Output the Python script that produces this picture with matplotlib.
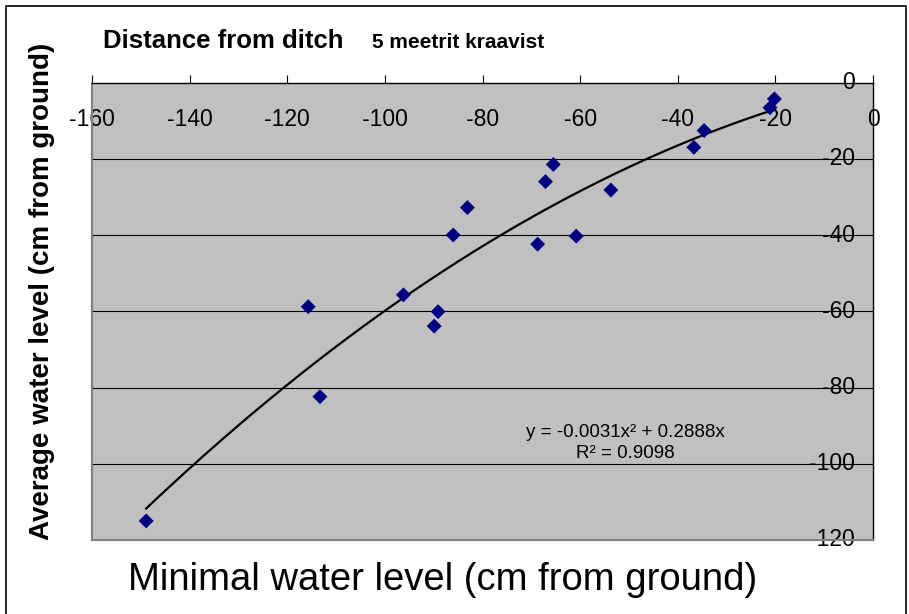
import numpy as np
import matplotlib
matplotlib.use("Agg")
import matplotlib.pyplot as plt
from matplotlib.patches import Rectangle

plt.rcParams["font.family"] = ["Liberation Sans", "DejaVu Sans"]
plt.rcParams["axes.unicode_minus"] = False

# minimal vs average water level, 5 m from the ditch
min_level = [-148.9, -115.7, -113.3, -96.2, -89.1, -89.9, -86.0, -83.1, -68.7,
             -67.1, -65.5, -60.8, -53.7, -36.7, -34.6, -21.1, -20.2]
avg_level = [-115.0, -58.8, -82.4, -55.7, -60.1, -63.9, -40.0, -32.8, -42.4,
             -26.0, -21.5, -40.3, -28.2, -17.0, -12.6, -6.6, -4.3]

# polynomial trendline (through origin)
coef_a = -0.0031
coef_b = 0.2888
r_squared = 0.9098

x_ticks = [-160, -140, -120, -100, -80, -60, -40, -20, 0]
y_ticks = [0, -20, -40, -60, -80, -100, -120]

fig = plt.figure(figsize=(9.09, 6.14), dpi=100)
ax = fig.add_axes([92 / 909, 1 - 540 / 614, 781 / 909, 457.5 / 614])
ax.set_facecolor("#C0C0C0")

ax.set_xlim(-160, 0)
ax.set_ylim(-120, 0)

for y in y_ticks[1:-1]:
    ax.axhline(y, color="black", lw=0.8, zorder=1)

ax.scatter(min_level, avg_level, marker="D", s=58, color="#000080",
           edgecolors="none", zorder=3)

xs = np.linspace(min(min_level), max(min_level), 200)
ax.plot(xs, coef_a * xs ** 2 + coef_b * xs, color="black", lw=1.6, zorder=2)

ax.text(0.6825, 0.212,
        f"y = {coef_a:.4f}x\u00b2 + {coef_b:.4f}x\nR\u00b2 = {r_squared:.4f}",
        transform=ax.transAxes, ha="center", va="center", fontsize=13.5,
        linespacing=1.3, zorder=4)

# axes cross at the top right corner, labels sit inside the plot area
ax.set_xticks(x_ticks)
ax.set_yticks(y_ticks)
ax.tick_params(axis="x", bottom=False, labelbottom=False, top=True,
               labeltop=True, direction="out", length=6, width=0.8,
               pad=-33, labelsize=16.5)
ax.tick_params(axis="y", left=False, labelleft=False, right=False,
               labelright=True, length=0, pad=-13, labelsize=16.5)
for t in ax.get_xticklabels():
    t.set_verticalalignment("center")
for t in ax.get_yticklabels():
    t.set_horizontalalignment("right")
    t.set_verticalalignment("center")

for side in ["left", "bottom"]:
    ax.spines[side].set_color("#808080")
    ax.spines[side].set_linewidth(1.5)
for side in ["top", "right"]:
    ax.spines[side].set_color("black")
    ax.spines[side].set_linewidth(1.0)

fig.text(103 / 909, 1 - 48 / 614, "Distance from ditch", fontsize=18.5,
         fontweight="bold", ha="left", va="baseline")
fig.text(372 / 909, 1 - 48 / 614, "5 meetrit kraavist", fontsize=15,
         fontweight="bold", ha="left", va="baseline")
fig.text(42 / 909, 1 - 291 / 614, "Average water level (cm from ground)",
         fontsize=20, fontweight="bold", rotation=90, ha="center", va="center")
fig.text(443 / 909, 1 - 580 / 614, "Minimal water level (cm from ground)",
         fontsize=27.5, ha="center", va="center")

fig.patches.append(Rectangle((6 / 909, -0.02), 900 / 909, 1.02 - 6 / 614,
                             transform=fig.transFigure, fill=False,
                             edgecolor="black", lw=1.2))

fig.savefig("out.png", dpi=100)
